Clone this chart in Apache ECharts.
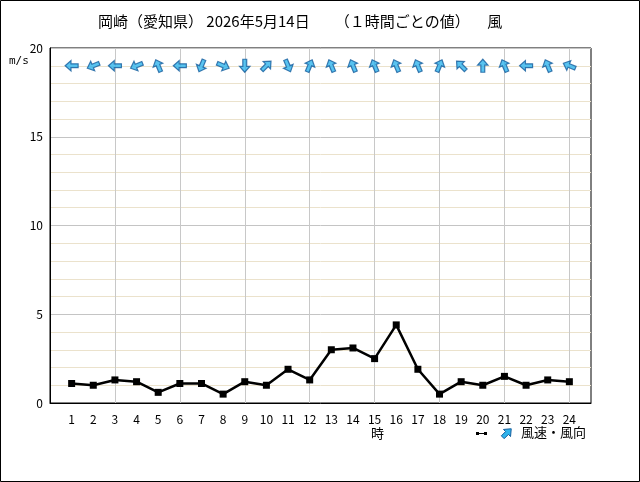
<!doctype html>
<html lang="ja">
<head>
<meta charset="utf-8">
<title>岡崎 風</title>
<script src="https://cdn.jsdelivr.net/npm/echarts@6/dist/echarts.min.js"></script>
<style>
  html, body { margin: 0; padding: 0; background: #fff; }
  #chart { width: 640px; height: 482px; }
</style>
</head>
<body>
<div id="chart"></div>
<script>
// 時刻 (1..24)
const hours = [1,2,3,4,5,6,7,8,9,10,11,12,13,14,15,16,17,18,19,20,21,22,23,24];
// 風速 m/s
const speed = [1.1,1.0,1.3,1.2,0.6,1.1,1.1,0.5,1.2,1.0,1.9,1.3,3.0,3.1,2.5,4.4,1.9,0.5,1.2,1.0,1.5,1.0,1.3,1.2];
// 風向 (吹いてくる方位)
const windDir = ['東','東北東','東','東北東','南南東','東','北北東','西北西','北','南西','北北西','南南西',
                 '南南東','南南東','南南東','南南東','南南東','南南西','南東','南','南南東','東','南南東','東南東'];

const compass = ['北','北北東','北東','東北東','東','東南東','南東','南南東',
                 '南','南南西','南西','西南西','西','西北西','北西','北北西'];

// arrow pointing up; rotated so it points where the wind goes
const arrowPath = 'path://M0,-10 L8,-1 L3,-1 L3,10 L-3,10 L-3,-1 L-8,-1 Z';
const arrowStyle = { color: '#30b4ec', borderColor: '#155d9c', borderWidth: 1.2 };

function toward(d) {
  return -(compass.indexOf(d) * 22.5 + 180);
}

const arrowData = hours.map((h, i) => ({
  value: [h, 19],
  symbolRotate: toward(windDir[i])
}));

// small legend arrow (pointing NE)
function legendArrow(cx, cy, s) {
  const pts = [[0,-6],[5,0],[2,0],[2,6],[-2,6],[-2,0],[-5,0]];
  const a = Math.PI / 4;
  return pts.map(p => [cx + s * (p[0] * Math.cos(a) - p[1] * Math.sin(a)),
                       cy + s * (p[0] * Math.sin(a) + p[1] * Math.cos(a))]);
}

const chart = echarts.init(document.getElementById('chart'));
const font = '"Noto Sans CJK JP", "Noto Sans", sans-serif';

chart.setOption({
  animation: false,
  textStyle: { fontFamily: font },
  title: {
    text: '岡崎（愛知県） 2026年5月14日　   （１時間ごとの値）　   風',
    left: 93, top: 9,
    textStyle: { fontSize: 15, fontWeight: 'normal', color: '#000', fontFamily: font }
  },
  grid: {
    left: 50, top: 48, width: 541, height: 355,
    show: true, borderColor: '#000', borderWidth: 1, backgroundColor: '#fff'
  },
  xAxis: {
    type: 'value', min: 0, max: 25, interval: 1,
    axisLine: { lineStyle: { color: '#000' } },
    axisTick: { show: false },
    axisLabel: {
      color: '#000', fontSize: 12, margin: 10,
      formatter: v => (v >= 1 && v <= 24) ? String(v) : ''
    },
    splitLine: { show: true, lineStyle: { color: ['#c8c8c8', 'rgba(0,0,0,0)', 'rgba(0,0,0,0)'], width: 1 } }
  },
  yAxis: {
    type: 'value', min: 0, max: 20, interval: 5,
    axisLine: { show: true, lineStyle: { color: '#000' } },
    axisTick: { show: false },
    axisLabel: { color: '#000', fontSize: 12, margin: 7 },
    minorTick: { show: true, splitNumber: 5, length: 0, lineStyle: { color: 'rgba(0,0,0,0)' } },
    minorSplitLine: { show: true, lineStyle: { color: '#ebe2cc', width: 1 } },
    splitLine: { show: true, lineStyle: { color: '#c4c4c4', width: 1 } }
  },
  series: [
    {
      name: '風速', type: 'line',
      data: hours.map((h, i) => [h, speed[i]]),
      symbol: 'rect', symbolSize: 7,
      itemStyle: { color: '#000' },
      lineStyle: { color: '#000', width: 2.5 },
      z: 5
    },
    {
      name: '風向', type: 'scatter',
      data: arrowData,
      symbol: arrowPath, symbolSize: 13, symbolKeepAspect: true,
      itemStyle: arrowStyle,
      z: 6
    }
  ],
  graphic: [
    { type: 'rect', shape: { x: 0.5, y: 0.5, width: 639, height: 481 },
      style: { fill: 'none', stroke: '#000', lineWidth: 1 }, silent: true },
    { type: 'text', x: 9, y: 56,
      style: { text: 'm/s', font: '11px "DejaVu Sans Mono", monospace', fill: '#000' } },
    { type: 'text', x: 371, y: 427,
      style: { text: '時', font: '13px ' + font, fill: '#000' } },
    { type: 'line', shape: { x1: 477, y1: 433.5, x2: 486, y2: 433.5 },
      style: { stroke: '#000', lineWidth: 1 } },
    { type: 'rect', shape: { x: 476, y: 432, width: 3, height: 3 }, style: { fill: '#000' } },
    { type: 'rect', shape: { x: 484, y: 432, width: 3, height: 3 }, style: { fill: '#000' } },
    { type: 'polygon', shape: { points: legendArrow(507, 433, 1) },
      style: { fill: '#30b4ec', stroke: '#155d9c', lineWidth: 1 } },
    { type: 'text', x: 521, y: 426,
      style: { text: '風速・風向', font: '13px ' + font, fill: '#000' } }
  ]
});
</script>
</body>
</html>
